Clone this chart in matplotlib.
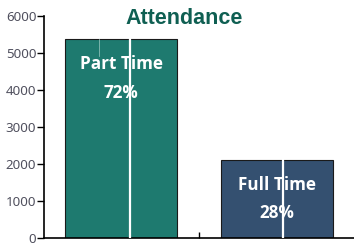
import matplotlib
matplotlib.use("Agg")
import matplotlib.pyplot as plt

categories = ["Part Time", "Full Time"]
counts = [5380, 2120]
percents = ["72%", "28%"]
yticks = [0, 1000, 2000, 3000, 4000, 5000, 6000]
bar_colors = ["#1e7a6f", "#345070"]
stroke_offsets = [0.055, 0.04]

fig = plt.figure(figsize=(3.54, 2.43), dpi=100)
W, H = 354, 243
ax = fig.add_axes([44 / W, 5 / H, (372 - 44) / W, (238 - 16) / H])

x = list(range(len(categories)))
ax.bar(x, counts, width=0.72, color=bar_colors, edgecolor="#1a1a1a", linewidth=0.8, zorder=2)

# thin white vertical strokes crossing the bars
for xi, off in zip(x, stroke_offsets):
    ax.axvline(xi + off, color="white", linewidth=1.6, zorder=3)
ax.plot([-0.14, -0.14], [counts[0] - 450, counts[0]], color="#9fcac3", linewidth=0.5, zorder=3)

for xi, cat, pct, c in zip(x, categories, percents, counts):
    ax.text(xi, c - 680, cat, ha="center", va="center", color="white",
            fontsize=12.3, fontweight="bold", family=["Open Sans", "DejaVu Sans"], zorder=4)
    ax.text(xi, c - 1450, pct, ha="center", va="center", color="white",
            fontsize=12.3, fontweight="bold", family=["Open Sans", "DejaVu Sans"], zorder=4)

ax.set_xlim(-0.494, (372 - 121) / 156)
ax.set_ylim(0, 6000)
ax.set_yticks(yticks)
ax.set_yticklabels([str(v) for v in yticks], fontsize=9.6, color="#50505e",
                   family=["Noto Sans", "DejaVu Sans"])
ax.set_xticks([0.5])
ax.set_xticklabels([""])
ax.tick_params(axis="y", length=5, width=1.0, color="black", pad=0.5)
ax.tick_params(axis="x", direction="in", length=4, width=1.0, color="black")
for s in ["top", "right"]:
    ax.spines[s].set_visible(False)
for s in ["left", "bottom"]:
    ax.spines[s].set_linewidth(1.2)
    ax.spines[s].set_color("black")
ax.set_facecolor("white")

fig.text(184 / W, (243 - 18) / H, "Attendance", ha="center", va="center",
         fontsize=15.5, fontweight="bold", color="#0f5f52",
         family=["Liberation Sans", "DejaVu Sans"])

fig.savefig("out.png", dpi=100)
